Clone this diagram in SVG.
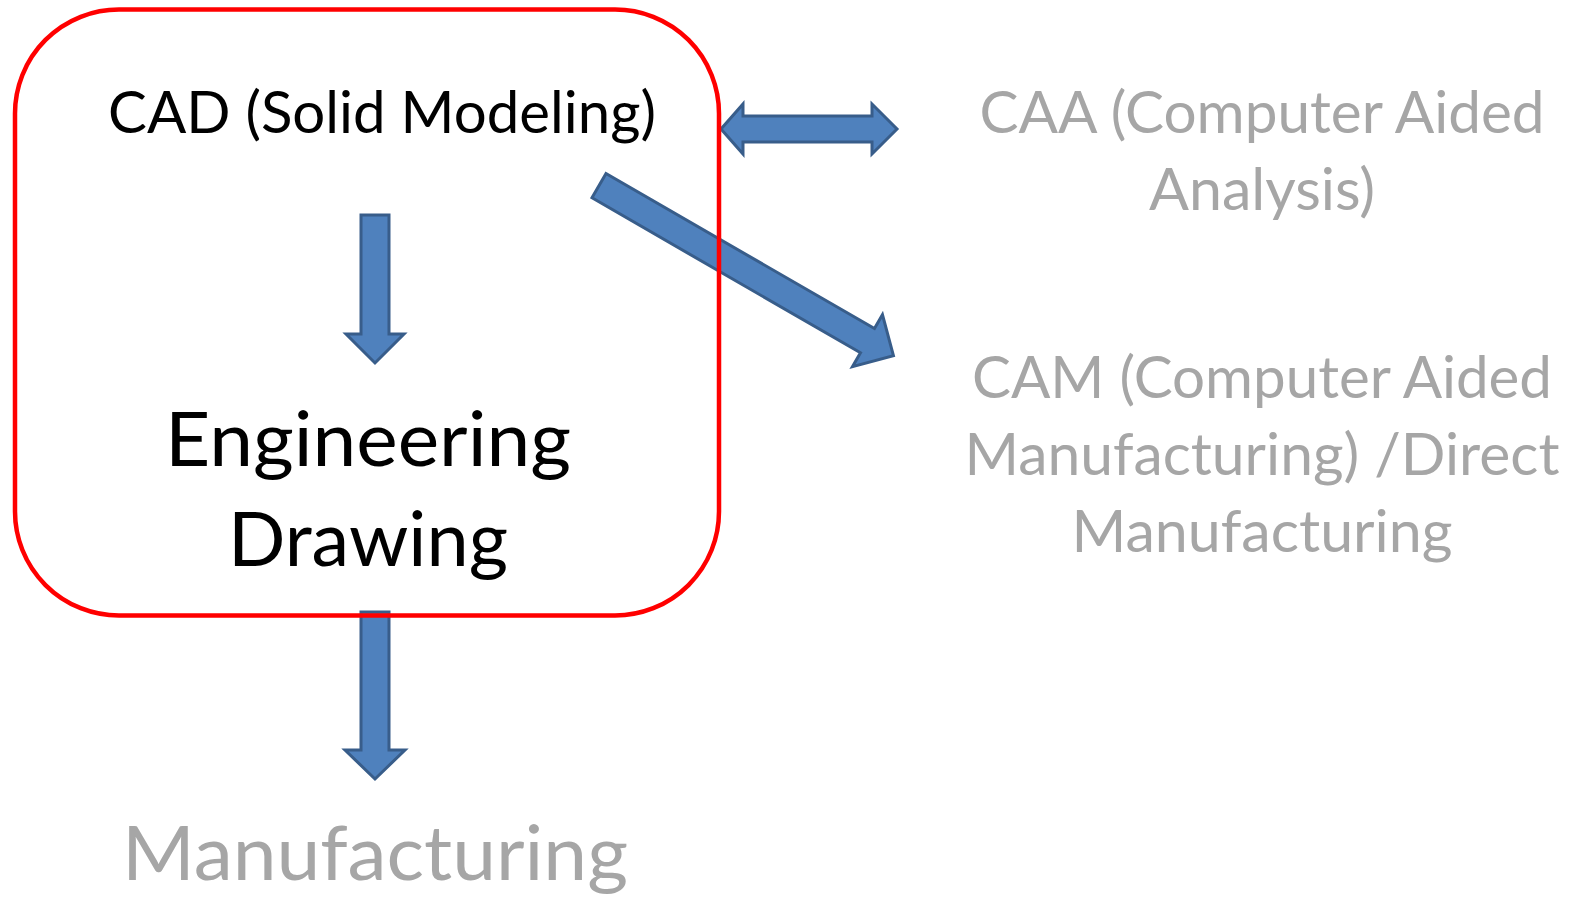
<svg xmlns="http://www.w3.org/2000/svg" width="1569" height="897" viewBox="0 0 1569 897">
  <style>
    .arrow { fill: #4F81BD; stroke: #385D8A; stroke-width: 3; stroke-linejoin: miter; }
    .box { fill: none; stroke: #FF0000; stroke-width: 4.5; }
    .dark { font-family: Lato, "Open Sans", sans-serif; fill: #000000; text-anchor: middle; }
    .grey { font-family: Lato, "Open Sans", sans-serif; fill: #A6A6A6; text-anchor: middle; }
    .m { font-size: 58px; }
    .l { font-size: 76px; }
  </style>
  <rect width="1569" height="897" fill="#FFFFFF"/>

  <!-- block arrows between the stages -->
  <g id="connectors">
    <path class="arrow" d="M361,215 H389 V334 H404 L375,363 L346,334 H361 Z"/>
    <path class="arrow" d="M361,612 H389 V750 H405 L375,779 L345,750 H361 Z"/>
    <path class="arrow" d="M721,129 L743,104 V116 H872 V104 L897,129 L872,154 V142 H743 V154 Z"/>
    <path class="arrow" transform="translate(599,185.7) rotate(30)" d="M0,-14 H310 V-30 L340,0 L310,30 V14 H0 Z"/>
  </g>

  <!-- CAD / engineering drawing block -->
  <g id="cad-block">
    <rect class="box" x="15" y="9.5" width="704" height="606" rx="104" ry="104"/>
    <text class="dark m" x="382" y="133" textLength="548" lengthAdjust="spacingAndGlyphs">CAD (Solid Modeling)</text>
    <text class="dark l" x="368" y="466" textLength="406" lengthAdjust="spacingAndGlyphs">Engineering</text>
    <text class="dark l" x="368" y="566" textLength="280" lengthAdjust="spacingAndGlyphs">Drawing</text>
  </g>

  <g id="caa">
    <text class="grey m" x="1262" y="133" textLength="565" lengthAdjust="spacingAndGlyphs">CAA (Computer Aided</text>
    <text class="grey m" x="1262" y="210" textLength="226" lengthAdjust="spacingAndGlyphs">Analysis)</text>
  </g>

  <g id="cam">
    <text class="grey m" x="1262" y="398" textLength="580" lengthAdjust="spacingAndGlyphs">CAM (Computer Aided</text>
    <text class="grey m" x="1262" y="475" textLength="595" lengthAdjust="spacingAndGlyphs">Manufacturing) /Direct</text>
    <text class="grey m" x="1262" y="552" textLength="381" lengthAdjust="spacingAndGlyphs">Manufacturing</text>
  </g>

  <g id="manufacturing">
    <text class="grey l" x="375" y="880" textLength="506" lengthAdjust="spacingAndGlyphs">Manufacturing</text>
  </g>
</svg>
